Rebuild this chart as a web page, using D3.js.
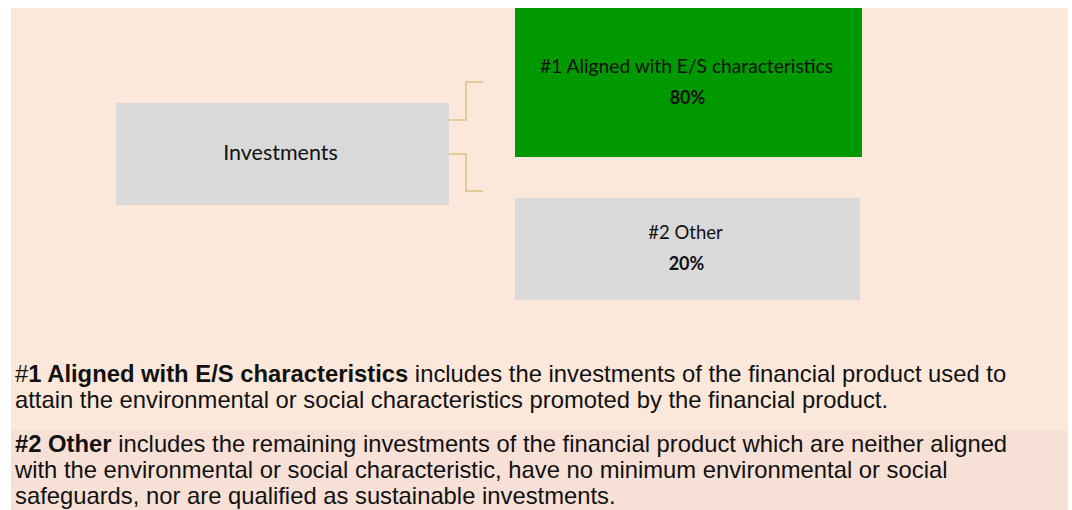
<!DOCTYPE html>
<html>
<head>
<meta charset="utf-8">
<script src="https://cdn.jsdelivr.net/npm/d3@7"></script>
<style>
  html, body { margin: 0; padding: 0; background: #fff; }
  svg { display: block; }
</style>
</head>
<body>
<svg id="chart" width="1072" height="510"></svg>
<script>
// data
var rootLabel = 'Investments';
var categories = ['#1 Aligned with E/S characteristics', '#2 Other'];
var shares = [80, 20];
var boxColours = ['#009900', '#d9d9d9'];

// footnotes: each line is a list of [text, bold] runs
var notes = [
  [
    [['#', false], ['1 Aligned with E/S characteristics', true], [' includes the investments of the financial product used to', false]],
    [['attain the environmental or social characteristics promoted by the financial product.', false]]
  ],
  [
    [['#2 Other', true], [' includes the remaining investments of the financial product which are neither aligned', false]],
    [['with the environmental or social characteristic, have no minimum environmental or social', false]],
    [['safeguards, nor are qualified as sustainable investments.', false]]
  ]
];

var svg = d3.select('#chart');
var boxFont = 'Lato, "Open Sans", sans-serif';
var noteFont = '"Liberation Sans", Arial, sans-serif';

// background panels
svg.append('rect').attr('x', 11).attr('y', 8).attr('width', 1057).attr('height', 422).attr('fill', '#fce8da');
svg.append('rect').attr('x', 11).attr('y', 430).attr('width', 1057).attr('height', 80).attr('fill', '#f7e0d6');

// root box
var root = {x: 116, y: 103, w: 333, h: 102};
svg.append('rect')
  .attr('x', root.x).attr('y', root.y)
  .attr('width', root.w).attr('height', root.h)
  .attr('fill', '#d9d9d9');
svg.append('text')
  .attr('x', root.x + root.w / 2 - 2).attr('y', 160)
  .attr('text-anchor', 'middle')
  .style('font-family', boxFont).style('font-size', '21.5px')
  .attr('fill', '#111')
  .text(rootLabel);

// child boxes
var childTop = d3.scaleOrdinal().domain(categories).range([8, 198]);
var childHeight = d3.scaleOrdinal().domain(categories).range([149, 102]);
var childWidth = d3.scaleOrdinal().domain(categories).range([347, 345]);
var labelSize = d3.scaleOrdinal().domain(categories).range([19.2, 18.5]);
var branchY = d3.scaleOrdinal().domain(categories).range([82, 191]);
var stemY = d3.scaleOrdinal().domain(categories).range([120, 154]);
var childX = 515;

var child = svg.selectAll('.child')
  .data(categories)
  .enter().append('g')
  .attr('class', 'child');

child.append('rect')
  .attr('x', childX)
  .attr('y', function(d) { return childTop(d); })
  .attr('width', function(d) { return childWidth(d); })
  .attr('height', function(d) { return childHeight(d); })
  .attr('fill', function(d, i) { return boxColours[i]; });

child.append('text')
  .attr('x', function(d) { return childX + childWidth(d) / 2 - 2; })
  .attr('y', function(d) { return childTop(d) + childHeight(d) / 2 - 10; })
  .attr('text-anchor', 'middle')
  .style('font-family', boxFont)
  .style('font-size', function(d) { return labelSize(d) + 'px'; })
  .attr('fill', '#111')
  .text(function(d) { return d; });

child.append('text')
  .attr('x', function(d) { return childX + childWidth(d) / 2 - 1; })
  .attr('y', function(d) { return childTop(d) + childHeight(d) / 2 + 21; })
  .attr('text-anchor', 'middle')
  .style('font-family', boxFont).style('font-size', '18px')
  .style('font-weight', 'bold')
  .attr('fill', '#111')
  .text(function(d, i) { return shares[i] + '%'; });

// connectors
child.append('path')
  .attr('d', function(d) {
    return 'M' + (root.x + root.w) + ',' + stemY(d) +
      'H466V' + branchY(d) + 'H483';
  })
  .attr('fill', 'none')
  .attr('stroke', '#d4c47e')
  .attr('stroke-width', 1.5);

// footnotes
var lineTop = [382, 452];
notes.forEach(function(block, b) {
  block.forEach(function(line, l) {
    var t = svg.append('text')
      .attr('x', 15)
      .attr('y', lineTop[b] + l * 26)
      .style('font-family', noteFont).style('font-size', '23.8px')
      .attr('fill', '#111');
    line.forEach(function(run) {
      t.append('tspan')
        .style('font-weight', run[1] ? 'bold' : 'normal')
        .text(run[0]);
    });
  });
});
</script>
</body>
</html>
